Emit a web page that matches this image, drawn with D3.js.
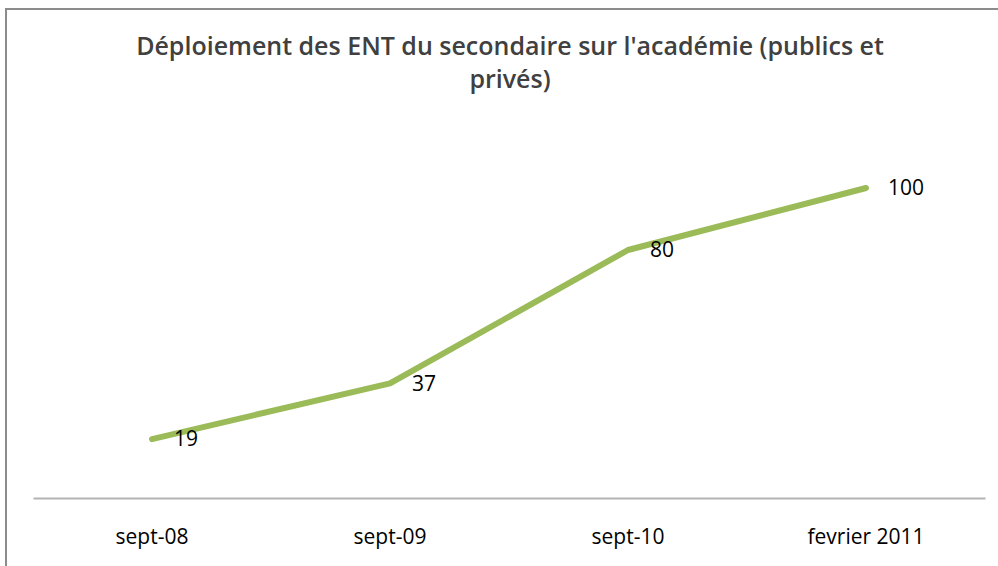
<!DOCTYPE html>
<html>
<head>
<meta charset="utf-8">
<script src="https://cdn.jsdelivr.net/npm/d3@7"></script>
<style>
  body { margin: 0; background: #fff; }
  svg { display: block; }
</style>
</head>
<body>
<script>
  var width = 998
  var height = 566

  // data
  var categories = ['sept-08', 'sept-09', 'sept-10', 'fevrier 2011']
  var values = [19, 37, 80, 100]
  var titleLines = ["Déploiement des ENT du secondaire sur l'académie (publics et", 'privés)']

  var font = "'Open Sans', sans-serif"

  var svg = d3.select('body').append('svg')
    .attr('width', width)
    .attr('height', height)

  // chart border (only top + left visible)
  svg.append('path')
    .attr('d', 'M6,' + height + 'V9H' + width)
    .style('fill', 'none')
    .style('stroke', '#8c8c8c')
    .style('stroke-width', 2)

  // title
  var title = svg.append('text')
    .attr('text-anchor', 'middle')
    .style('font-family', font)
    .style('font-weight', 600)
    .style('font-size', '25px')
    .style('fill', '#404040')
  title.selectAll('tspan')
    .data(titleLines)
    .enter().append('tspan')
    .attr('x', 510)
    .attr('y', function (d, i) { return 55 + i * 33 })
    .text(function (d) { return d })

  var x = d3.scaleBand()
    .domain(categories)
    .range([33, 985])

  var y = d3.scaleLinear()
    .domain([0, 120])
    .range([498, 126])

  // x axis
  var xAxis = svg.append('g')
    .attr('transform', 'translate(0,498)')
    .call(d3.axisBottom(x).tickSize(0).tickPadding(31))
  xAxis.select('.domain')
    .style('stroke', '#b3b3b3')
    .style('stroke-width', 2)
  xAxis.selectAll('text')
    .style('font-family', font)
    .style('font-size', '21px')
    .style('fill', '#000')

  var line = d3.line()
    .x(function (d, i) { return x(categories[i]) + x.bandwidth() / 2 })
    .y(function (d) { return y(d) })

  svg.append('path')
    .datum(values)
    .attr('d', line)
    .style('fill', 'none')
    .style('stroke', '#9bbb59')
    .style('stroke-width', 6)
    .style('stroke-linejoin', 'round')
    .style('stroke-linecap', 'round')

  // data labels, to the right of each point
  svg.selectAll('.label')
    .data(values)
    .enter().append('text')
    .attr('class', 'label')
    .attr('x', function (d, i) { return x(categories[i]) + x.bandwidth() / 2 + 22 })
    .attr('y', function (d) { return y(d) })
    .attr('dy', '0.35em')
    .style('font-family', font)
    .style('font-size', '21px')
    .style('fill', '#000')
    .text(function (d) { return d })
</script>
</body>
</html>
